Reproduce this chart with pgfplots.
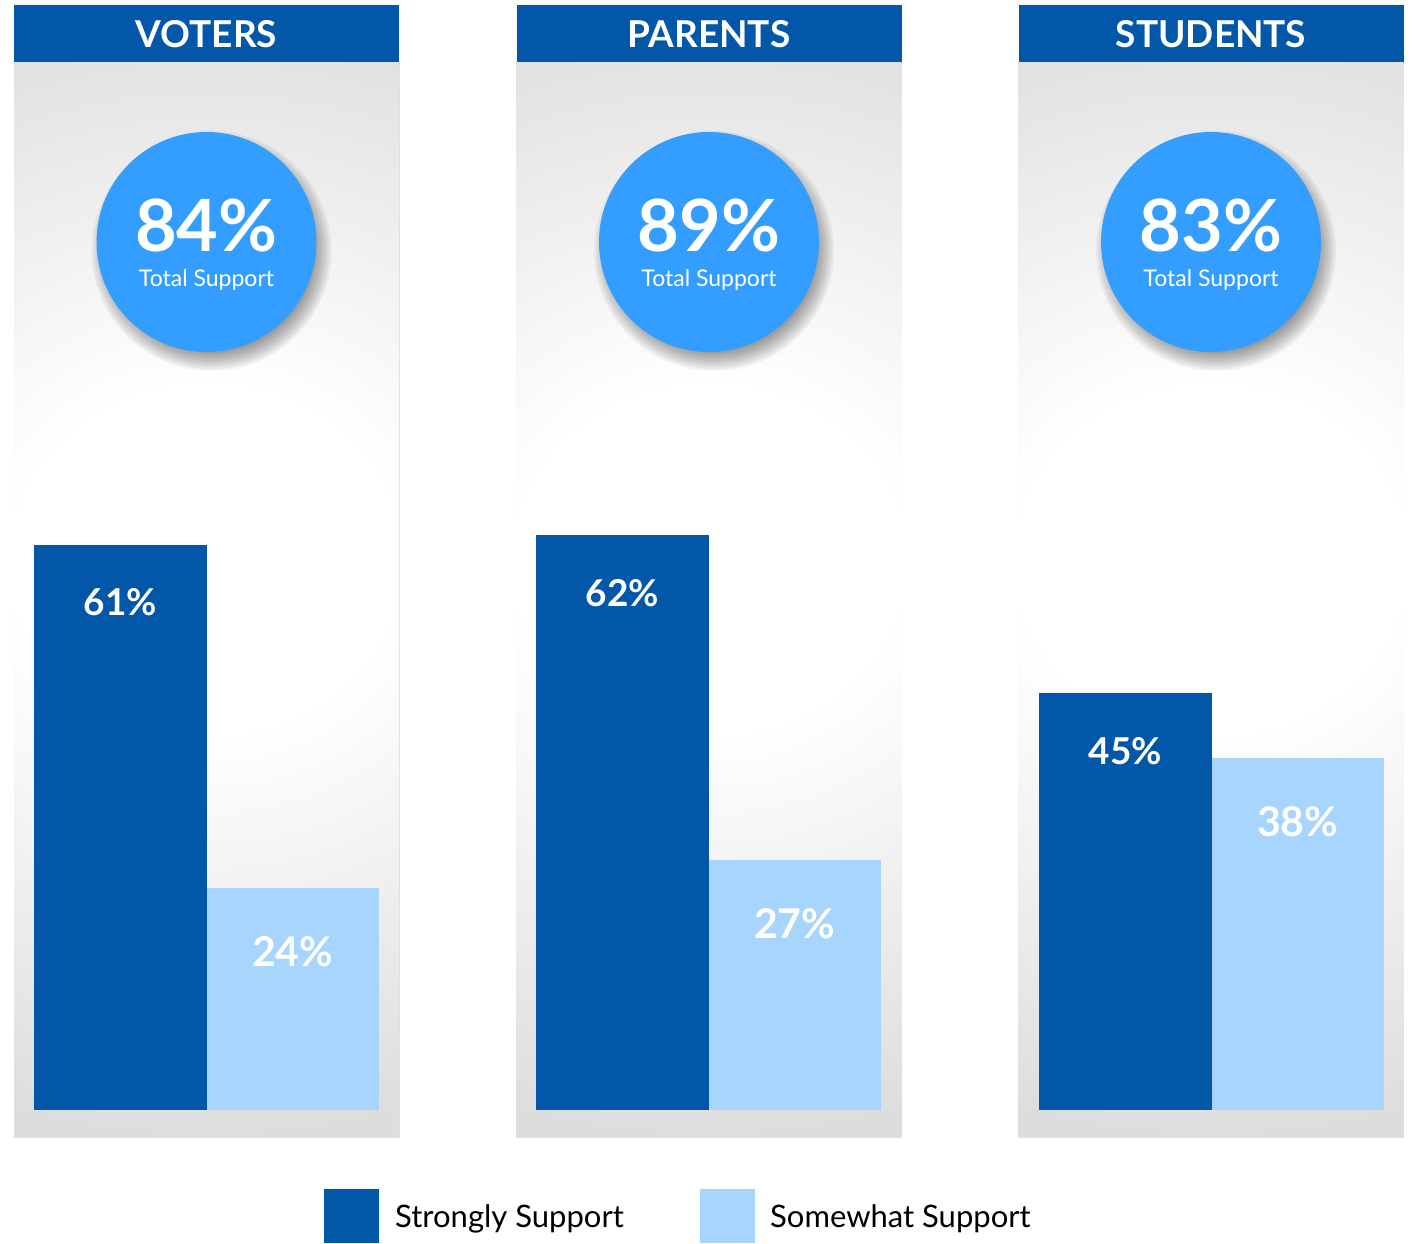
\documentclass[border=0pt]{standalone}
\usepackage{pgfplots}
\pgfplotsset{compat=1.18}
\usepackage{fontspec}
\setmainfont{Lato}
\definecolor{darkblue}{HTML}{0257A8}
\definecolor{lightblue}{HTML}{A8D5FE}
\definecolor{circblue}{HTML}{339EFF}
\definecolor{panelgray}{HTML}{DDDDDD}
\pgfdeclareradialshading{panelshade}{\pgfpoint{0bp}{0bp}}{color(0bp)=(white); color(7.5bp)=(white); color(25bp)=(panelgray); color(50bp)=(panelgray)}
\newcommand\fs[1]{\fontsize{#1pt}{#1pt}\selectfont}
\pgfplotsset{
  panelbars/.style={anchor=south west, scale only axis, width=345pt, height=602.55pt,
    xmin=-0.5, xmax=1.5, ymin=0, ymax=65, hide axis, ybar, bar width=1, bar shift=0pt,
    point meta=explicit symbolic, nodes near coords, clip=false},
  strong/.style={fill=darkblue, draw=none,
    every node near coord/.append style={text=white, font=\bfseries\fs{37}, anchor=center, yshift=-58pt}},
  some/.style={fill=lightblue, draw=none,
    every node near coord/.append style={text=white, font=\bfseries\fs{41}, anchor=center, yshift=-64pt}},
}
\begin{document}
\begin{tikzpicture}
\begin{scope}[x=1pt,y=-1pt]
\path (0,0) rectangle (1416,1243);
\foreach \cx/\lab/\tot in {206.5/VOTERS/84, 709/PARENTS/89, 1211/STUDENTS/83}{
  \begin{scope}
    \clip (\cx-192.5,62) rectangle (\cx+192.5,1137);
    \fill[shading=panelshade] (\cx-640,-17) rectangle (\cx+640,1137);
  \end{scope}
  \fill[darkblue] (\cx-192.5,5) rectangle (\cx+192.5,62);
  \node[text=white, anchor=base, font=\bfseries\fs{37}, inner sep=0pt] at (\cx,47) {\lab};
  \foreach \r in {102,104,...,120}{
    \fill[black, opacity=0.045] (\cx+5,251) circle[radius=\r pt];
  }
  \fill[circblue] (\cx,242) circle[radius=110pt];
  \node[text=white, anchor=base, font=\bfseries\fs{72}, inner sep=0pt] at (\cx,251) {\tot\%};
  \node[text=white, anchor=base, font=\fs{23}, inner sep=0pt] at (\cx,286) {Total Support};
}
\fill[darkblue] (324,1189) rectangle (379,1243);
\node[anchor=base west, font=\fs{31}, inner sep=0pt] at (395,1227) {Strongly Support};
\fill[lightblue] (700,1189) rectangle (755,1243);
\node[anchor=base west, font=\fs{31}, inner sep=0pt] at (770,1227) {Somewhat Support};
\end{scope}

\begin{axis}[panelbars, at={(34pt,-1110pt)}]
\addplot[strong] coordinates {(0,61) [61\%]};
\addplot[some] coordinates {(1,24) [24\%]};
\end{axis}
\begin{axis}[panelbars, at={(536pt,-1110pt)}]
\addplot[strong] coordinates {(0,62) [62\%]};
\addplot[some] coordinates {(1,27) [27\%]};
\end{axis}
\begin{axis}[panelbars, at={(1039pt,-1110pt)}]
\addplot[strong] coordinates {(0,45) [45\%]};
\addplot[some] coordinates {(1,38) [38\%]};
\end{axis}
\end{tikzpicture}
\end{document}
